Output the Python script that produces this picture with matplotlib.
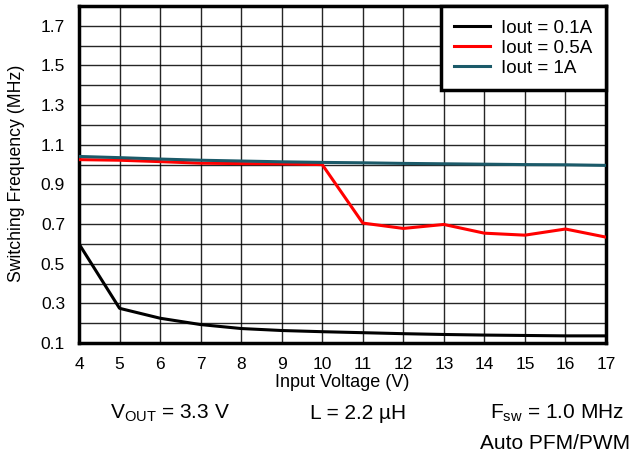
import matplotlib
matplotlib.use("Agg")
import matplotlib.pyplot as plt
from matplotlib.ticker import MultipleLocator

plt.rcParams['font.family'] = ['Liberation Sans', 'DejaVu Sans']

vin = [4, 5, 6, 7, 8, 9, 10, 11, 12, 13, 14, 15, 16, 17]
f_01A = [0.60, 0.275, 0.225, 0.193, 0.173, 0.163, 0.157, 0.152, 0.147, 0.143, 0.140, 0.138, 0.136, 0.136]
f_05A = [1.025, 1.022, 1.015, 1.007, 1.005, 1.004, 1.0, 0.705, 0.678, 0.698, 0.654, 0.644, 0.675, 0.634]
f_1A = [1.041, 1.035, 1.028, 1.022, 1.018, 1.014, 1.011, 1.009, 1.006, 1.004, 1.002, 1.0, 0.999, 0.996]
labels = ['Iout = 0.1A', 'Iout = 0.5A', 'Iout = 1A']
colors = ['#000000', '#ff0000', '#1b5a69']
yticks = [0.1, 0.3, 0.5, 0.7, 0.9, 1.1, 1.3, 1.5, 1.7]

W, H = 634, 461
fig = plt.figure(figsize=(W/100, H/100), dpi=100)
x0, x1, y0, y1 = 79, 606, 6, 343
ax = fig.add_axes([x0/W, 1-y1/H, (x1-x0)/W, (y1-y0)/H])

for y, lab, c in zip([f_01A, f_05A, f_1A], labels, colors):
    ax.plot(vin, y, color=c, lw=2.2, label=lab, zorder=3)

ax.set_xlim(4, 17)
ax.set_ylim(0.1, 1.8)
ax.set_xticks(vin)
ax.set_yticks(yticks)
ax.yaxis.set_minor_locator(MultipleLocator(0.1))
ax.grid(True, which='both', color='black', lw=1, alpha=0.85)
ax.tick_params(axis='both', which='both', length=0, labelsize=12.5)
ax.tick_params(axis='x', pad=10)
ax.tick_params(axis='y', pad=10)
for s in ax.spines.values():
    s.set_linewidth(2.5)

ax.set_xlabel('Input Voltage (V)', fontsize=13, va='center')
ax.xaxis.set_label_coords(0.5, (y1-382)/(y1-y0))
ax.set_ylabel('Switching Frequency (MHz)', fontsize=12.7, va='center')
ax.yaxis.set_label_coords((17-x0)/(x1-x0), (y1-173)/(y1-y0))

leg = ax.legend(loc='upper right', fontsize=13.5, frameon=True, fancybox=False,
                borderaxespad=0, handlelength=1.9, handletextpad=0.6,
                labelspacing=0.16, borderpad=0.72)
leg.get_frame().set_edgecolor('black')
leg.get_frame().set_linewidth(2.5)
leg.get_frame().set_alpha(1)

fs = 15
fig.text(170/W, 1-413/H, r'V$_{\mathregular{OUT}}$ = 3.3 V', ha='center', va='center', fontsize=fs)
fig.text(358/W, 1-413/H, 'L = 2.2 µH', ha='center', va='center', fontsize=fs)
fig.text(557/W, 1-413/H, r'F$_{\mathregular{sw}}$ = 1.0 MHz', ha='center', va='center', fontsize=fs)
fig.text(630/W, 1-443/H, 'Auto PFM/PWM', ha='right', va='center', fontsize=fs)

fig.savefig('out.png', dpi=100)
